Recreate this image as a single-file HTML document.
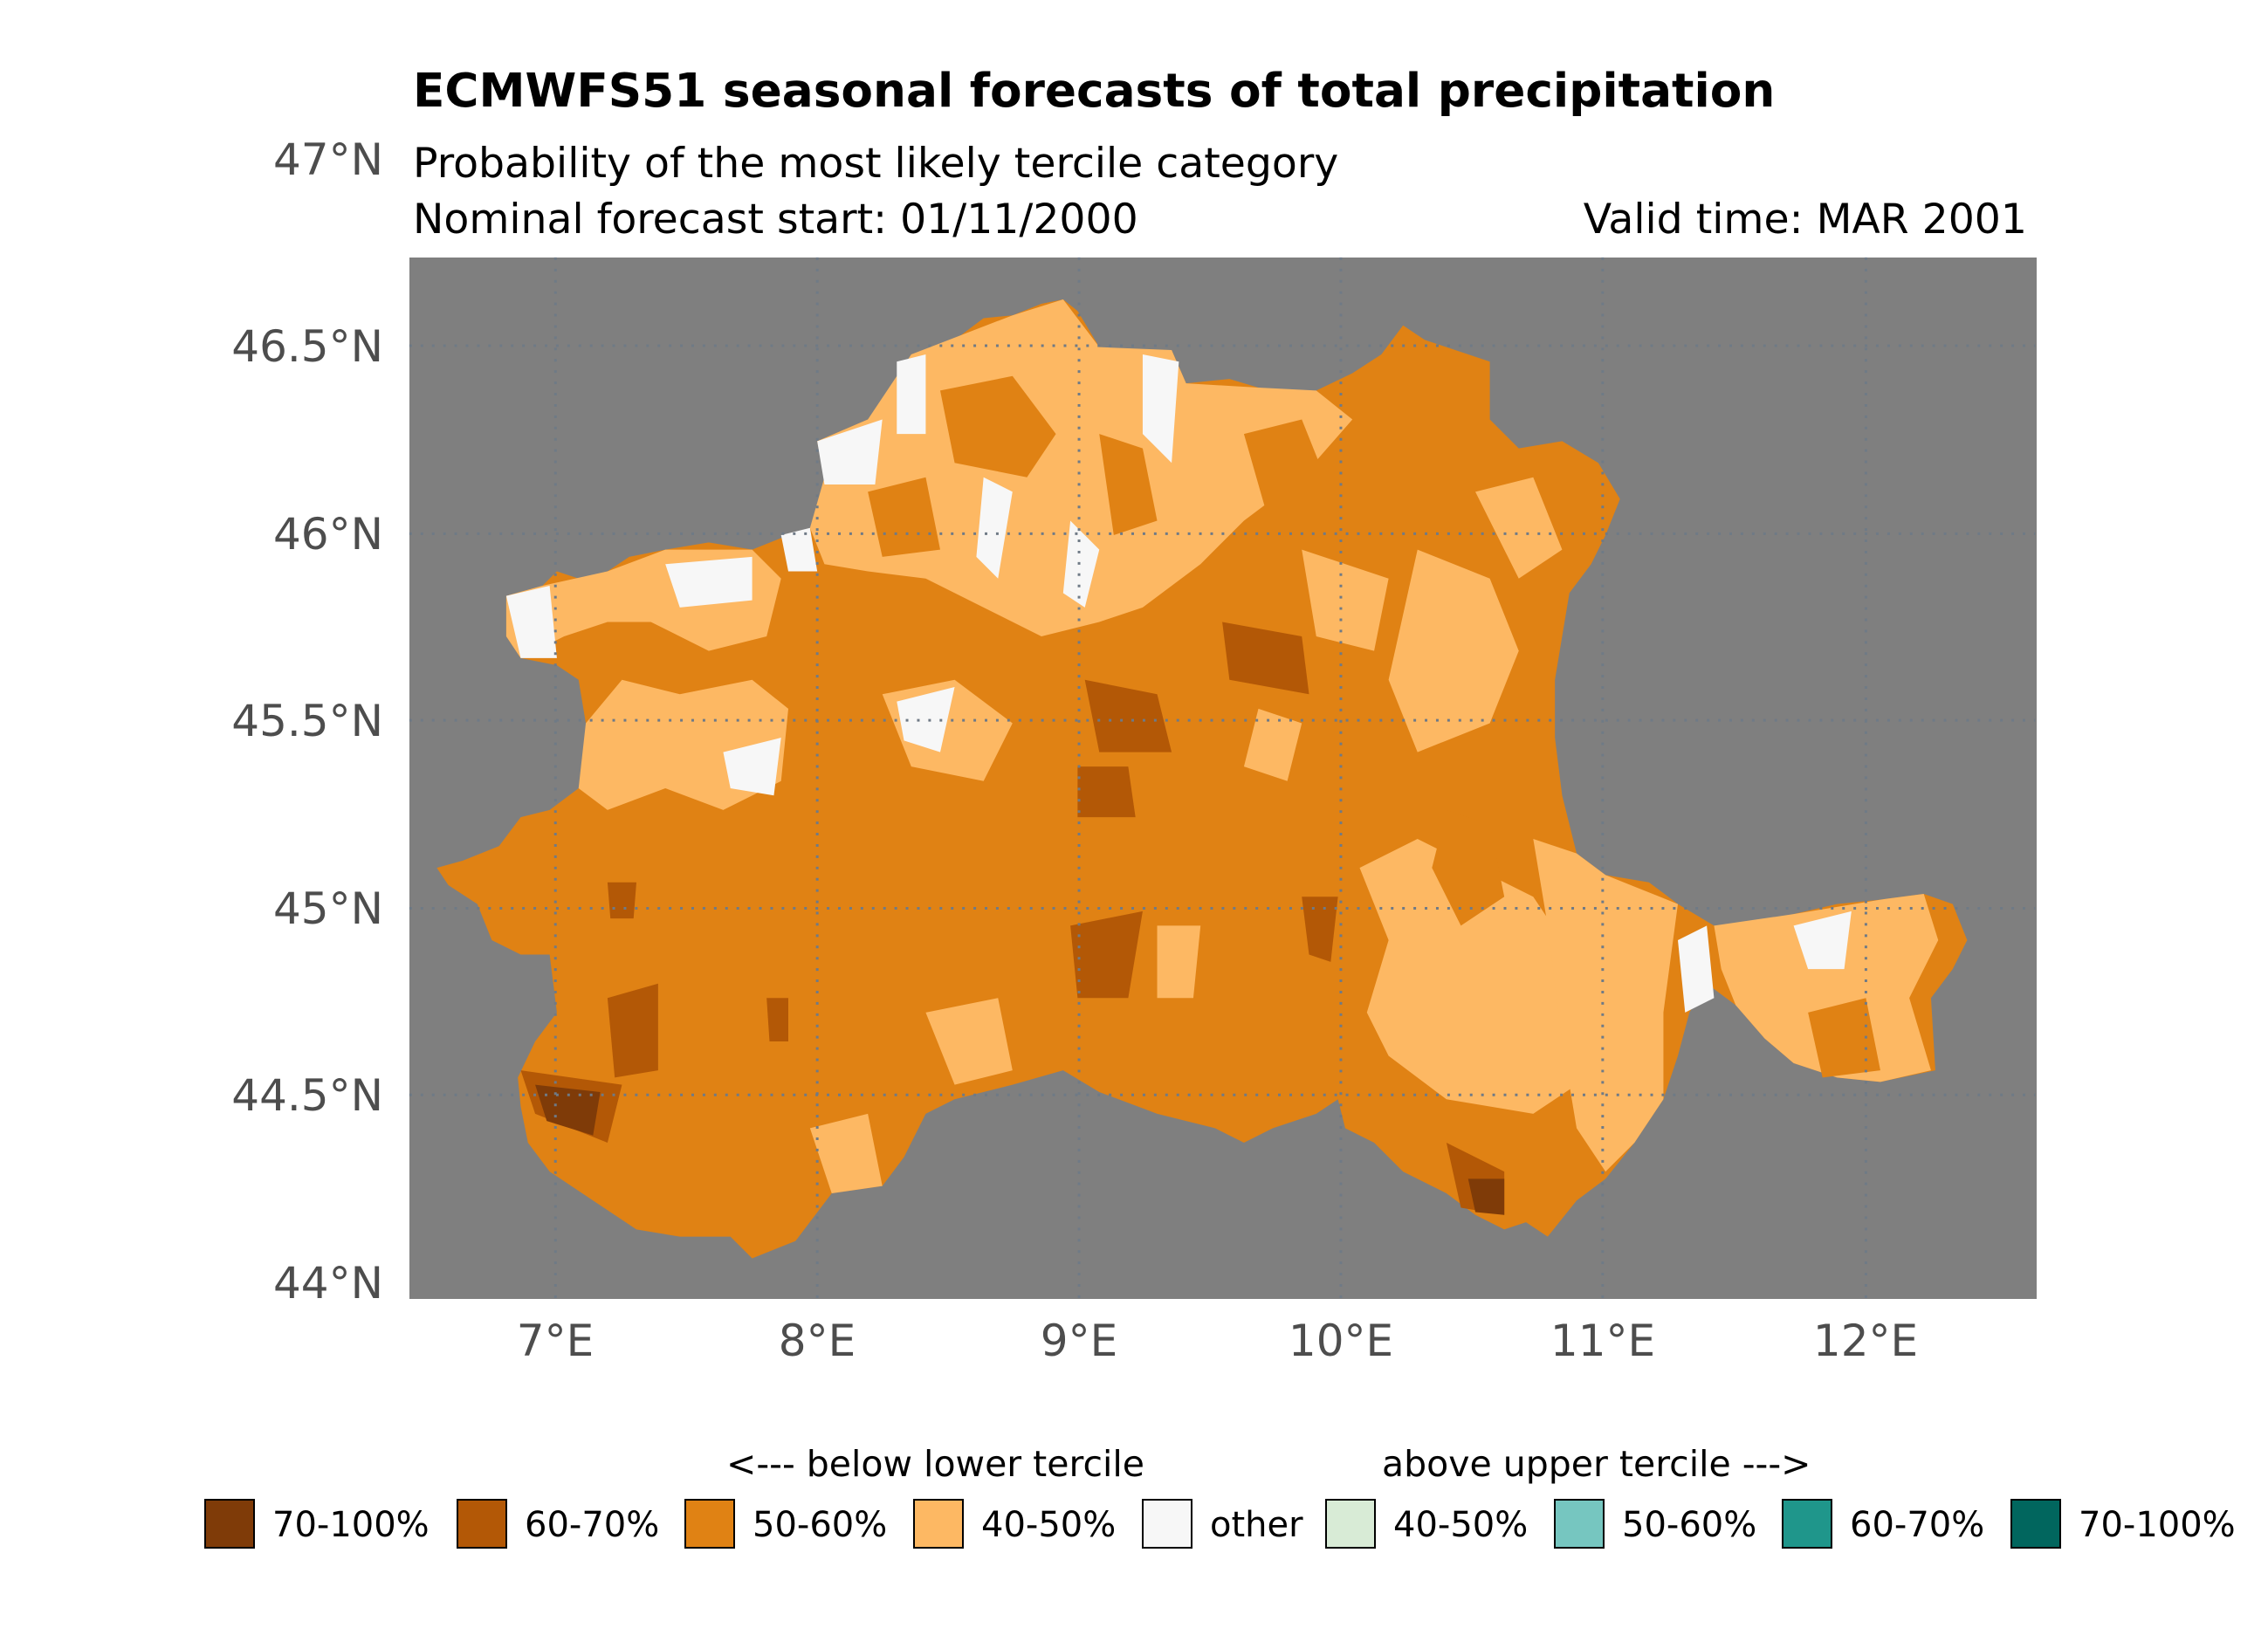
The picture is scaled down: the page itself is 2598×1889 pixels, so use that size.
<!DOCTYPE html>
<html><head><meta charset="utf-8"><style>
html,body{margin:0;padding:0;background:#fff;}
svg{display:block;}
text{font-family:"DejaVu Sans","Liberation Sans",sans-serif;}
</style></head><body>
<svg width="2598" height="1889" viewBox="0 0 2598 1889" xmlns="http://www.w3.org/2000/svg">
<rect width="2598" height="1889" fill="#fff"/>
<text x="473" y="122" font-size="53.3" font-weight="bold" fill="#000">ECMWFS51 seasonal forecasts of total precipitation</text>
<text x="473" y="203" font-size="47.3" fill="#000">Probability of the most likely tercile category</text>
<text x="473" y="267" font-size="47.3" fill="#000">Nominal forecast start: 01/11/2000</text>
<text x="2322" y="267" font-size="47.3" fill="#000" text-anchor="end">Valid time: MAR 2001</text>
<rect x="469" y="295" width="1864" height="1193" fill="#7f7f7f"/>
<g transform="scale(1.6569)">
<polygon fill="#e08214" points="302,600 320,595 345,585 360,565 380,560 400,545 410,530 405,500 400,470 385,460 360,455 350,440 350,412 375,405 385,395 400,400 420,395 435,385 460,380 490,375 520,380 540,372 560,365 570,355 570,330 565,305 600,290 615,270 630,245 660,235 680,220 700,218 720,210 735,207 745,215 760,240 790,245 810,242 820,265 850,262 870,268 890,275 910,270 935,258 955,245 970,225 985,235 1000,240 1030,250 1030,290 1050,310 1080,305 1105,320 1120,345 1110,370 1100,390 1085,410 1080,440 1075,470 1075,510 1080,550 1090,590 1110,605 1140,610 1160,625 1185,640 1210,640 1240,632 1270,625 1300,622 1330,618 1350,625 1360,650 1350,670 1335,690 1338,740 1300,748 1270,745 1240,735 1220,718 1200,695 1180,680 1168,700 1160,730 1150,760 1130,790 1110,815 1090,830 1070,855 1055,845 1040,850 1020,840 1000,825 970,810 950,790 930,780 925,760 910,770 880,780 860,790 840,780 800,770 760,755 735,740 700,750 660,760 640,770 625,800 610,820 575,825 550,858 520,870 505,855 470,855 440,850 410,830 380,810 365,790 360,765 358,745 370,720 385,700 380,660 360,660 340,650 330,625 310,612"/>
<g fill="#fdb863">
<polygon points="560,365 570,330 565,305 600,290 630,245 700,218 735,207 760,240 810,242 820,265 870,268 910,270 935,290 900,330 860,360 830,390 790,420 760,430 720,440 680,420 640,400 600,395 570,390"/>
<polygon points="350,412 375,405 420,395 460,380 520,380 540,400 530,440 490,450 450,430 420,430 390,440 360,455 350,440"/>
<polygon points="405,500 430,470 470,480 520,470 545,490 540,540 500,560 460,545 420,560 400,545"/>
<polygon points="940,600 980,580 1020,600 1060,620 1080,650 1100,700 1090,750 1060,770 1000,760 960,730 945,700 960,650"/>
<polygon points="1060,580 1090,590 1110,605 1160,625 1150,700 1150,760 1130,790 1110,810 1090,780 1080,720 1070,640"/>
<polygon points="1185,640 1240,632 1300,622 1330,618 1340,650 1320,690 1335,740 1300,748 1270,745 1240,735 1220,718 1200,695 1190,670"/>
<polygon points="980,380 1030,400 1050,450 1030,500 980,520 960,470"/>
<polygon points="1020,340 1060,330 1080,380 1050,400"/>
<polygon points="610,480 660,470 700,500 680,540 630,530"/>
<polygon points="640,700 690,690 700,740 660,750"/>
<polygon points="560,780 600,770 610,820 575,825"/>
<polygon points="870,490 900,500 890,540 860,530"/>
<polygon points="800,640 830,640 825,690 800,690"/>
<polygon points="900,380 960,400 950,450 910,440"/>
</g>
<g fill="#e08214">
<polygon points="650,270 700,260 730,300 710,330 660,320"/>
<polygon points="860,300 900,290 920,340 880,370"/>
<polygon points="1000,560 1030,570 1040,620 1010,640 990,600"/>
<polygon points="1250,700 1290,690 1300,740 1260,745"/>
<polygon points="760,300 790,310 800,360 770,370"/>
<polygon points="600,340 640,330 650,380 610,385"/>
</g>
<g fill="#f7f7f7">
<polygon points="565,305 610,290 605,335 570,335"/>
<polygon points="460,390 520,385 520,415 470,420"/>
<polygon points="350,412 380,405 385,455 360,455"/>
<polygon points="790,245 815,250 810,320 790,300"/>
<polygon points="620,250 640,245 640,300 620,300"/>
<polygon points="680,330 700,340 690,400 675,385"/>
<polygon points="740,360 760,380 750,420 735,410"/>
<polygon points="1240,640 1280,630 1275,670 1250,670"/>
<polygon points="1160,650 1180,640 1185,690 1165,700"/>
<polygon points="500,520 540,510 535,550 505,545"/>
<polygon points="620,485 660,475 650,520 625,512"/>
<polygon points="540,370 560,365 565,395 545,395"/>
</g>
<g fill="#b35806">
<polygon points="750,470 800,480 810,520 760,520"/>
<polygon points="845,430 900,440 905,480 850,470"/>
<polygon points="740,640 790,630 780,690 745,690"/>
<polygon points="900,620 925,620 920,665 905,660"/>
<polygon points="420,690 455,680 455,740 425,745"/>
<polygon points="745,530 780,530 785,565 745,565"/>
<polygon points="360,740 430,750 420,790 370,770"/>
<polygon points="1000,790 1040,810 1040,840 1010,835"/>
<polygon points="420,610 440,610 438,635 422,635"/>
<polygon points="530,690 545,690 545,720 532,720"/>
</g>
<g fill="#7f3b08">
<polygon points="370,750 415,755 410,785 378,775"/>
<polygon points="1015,815 1040,815 1040,840 1020,838"/>
</g>
<g stroke="#6f7a86" stroke-width="1.8" stroke-dasharray="1.8,6" fill="none">
<line x1="384" y1="178" x2="384" y2="898"/>
<line x1="565" y1="178" x2="565" y2="898"/>
<line x1="746" y1="178" x2="746" y2="898"/>
<line x1="927" y1="178" x2="927" y2="898"/>
<line x1="1108" y1="178" x2="1108" y2="898"/>
<line x1="1290" y1="178" x2="1290" y2="898"/>
<line x1="283" y1="239" x2="1407" y2="239"/>
<line x1="283" y1="369" x2="1407" y2="369"/>
<line x1="283" y1="498" x2="1407" y2="498"/>
<line x1="283" y1="628" x2="1407" y2="628"/>
<line x1="283" y1="757" x2="1407" y2="757"/>
</g>
</g>
<g font-size="50" fill="#4d4d4d" text-anchor="end">
<text x="439" y="200">47°N</text>
<text x="439" y="414">46.5°N</text>
<text x="439" y="629">46°N</text>
<text x="439" y="843">45.5°N</text>
<text x="439" y="1058">45°N</text>
<text x="439" y="1272">44.5°N</text>
<text x="439" y="1487">44°N</text>
</g>
<g font-size="50" fill="#4d4d4d" text-anchor="middle">
<text x="636" y="1553">7°E</text>
<text x="936" y="1553">8°E</text>
<text x="1236" y="1553">9°E</text>
<text x="1536" y="1553">10°E</text>
<text x="1836" y="1553">11°E</text>
<text x="2137" y="1553">12°E</text>
</g>
<g font-size="41" fill="#000">
<text x="832" y="1691">&lt;--- below lower tercile</text>
<text x="1583" y="1691">above upper tercile ---&gt;</text>
</g>
<g stroke="#000" stroke-width="2">
<rect x="235" y="1718" width="56" height="55" fill="#7f3b08"/>
<rect x="524" y="1718" width="56" height="55" fill="#b35806"/>
<rect x="785" y="1718" width="56" height="55" fill="#e08214"/>
<rect x="1047" y="1718" width="56" height="55" fill="#fdb863"/>
<rect x="1309" y="1718" width="56" height="55" fill="#f7f7f7"/>
<rect x="1519" y="1718" width="56" height="55" fill="#d8ebd6"/>
<rect x="1781" y="1718" width="56" height="55" fill="#76c6c0"/>
<rect x="2042" y="1718" width="56" height="55" fill="#1f968b"/>
<rect x="2304" y="1718" width="56" height="55" fill="#01665e"/>
</g>
<g font-size="40" fill="#000">
<text x="312" y="1760">70-100%</text>
<text x="601" y="1760">60-70%</text>
<text x="862" y="1760">50-60%</text>
<text x="1124" y="1760">40-50%</text>
<text x="1386" y="1760">other</text>
<text x="1596" y="1760">40-50%</text>
<text x="1858" y="1760">50-60%</text>
<text x="2119" y="1760">60-70%</text>
<text x="2381" y="1760">70-100%</text>
</g>
</svg>
</body></html>
